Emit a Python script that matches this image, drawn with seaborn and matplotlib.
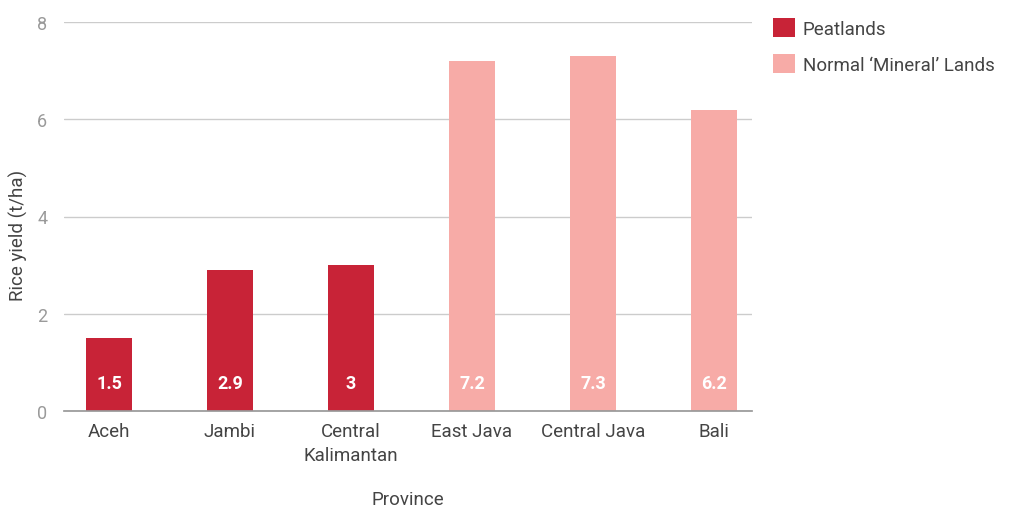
import matplotlib
matplotlib.use("Agg")
import matplotlib.pyplot as plt
import seaborn as sns
import pandas as pd

provinces = ["Aceh", "Jambi", "Central\nKalimantan", "East Java", "Central Java", "Bali"]
yields = [1.5, 2.9, 3.0, 7.2, 7.3, 6.2]
land_type = ["Peatlands", "Peatlands", "Peatlands",
             "Normal \u2018Mineral\u2019 Lands", "Normal \u2018Mineral\u2019 Lands", "Normal \u2018Mineral\u2019 Lands"]
value_labels = ["1.5", "2.9", "3", "7.2", "7.3", "6.2"]
y_ticks = [0, 2, 4, 6, 8]

sns.set_theme(style="white")
plt.rcParams['font.family'] = ['Roboto', 'DejaVu Sans']

df = pd.DataFrame({"Province": provinces, "Yield": yields, "Type": land_type})
palette = {"Peatlands": "#C82337", "Normal \u2018Mineral\u2019 Lands": "#F7ABA7"}

fig = plt.figure(figsize=(10.19, 5.10), dpi=100)
ax = fig.add_axes([64/1019, 1-412/510, (752-64)/1019, (412-23)/510])

sns.barplot(data=df, x="Province", y="Yield", hue="Type", palette=palette,
            dodge=False, width=0.38, ax=ax, saturation=1, linewidth=0)

for i, (v, lab) in enumerate(zip(yields, value_labels)):
    ax.text(i, 0.58, lab, ha="center", va="center", color="white",
            fontsize=13, fontweight="bold")

ax.set_xlim((64-109)/121, (752-109)/121)
ax.set_ylim(0, 8)
ax.set_yticks(y_ticks)
ax.set_yticklabels([str(t) for t in y_ticks], color="#9a9a9a", fontsize=13)
ax.yaxis.grid(True, color="#cccccc", linewidth=1)
ax.set_axisbelow(True)
for s in ["top", "right", "left"]:
    ax.spines[s].set_visible(False)
ax.spines["bottom"].set_color("#999999")
ax.tick_params(axis="y", length=0, pad=12)
ax.tick_params(axis="x", length=0, pad=8, labelsize=13.5, labelcolor="#444444")
for t in ax.get_xticklabels():
    t.set_linespacing(1.45)
ax.set_xlabel("Province", fontsize=13.5, color="#444444")
ax.set_ylabel("Rice yield (t/ha)", fontsize=13.5, color="#444444")
ax.xaxis.set_label_coords(0.5, (412-491)/389)
ax.yaxis.set_label_coords((28-64)/688, (412-235)/389)

handles, labels = ax.get_legend_handles_labels()
if ax.legend_:
    ax.legend_.remove()
fig.legend(handles, labels, loc="upper left", bbox_to_anchor=(0.742, 0.995),
           frameon=False, fontsize=13.5, labelcolor="#444444",
           handlelength=1.15, handleheight=1.15, handletextpad=0.45, labelspacing=0.85)

fig.savefig("out.png", dpi=100)
